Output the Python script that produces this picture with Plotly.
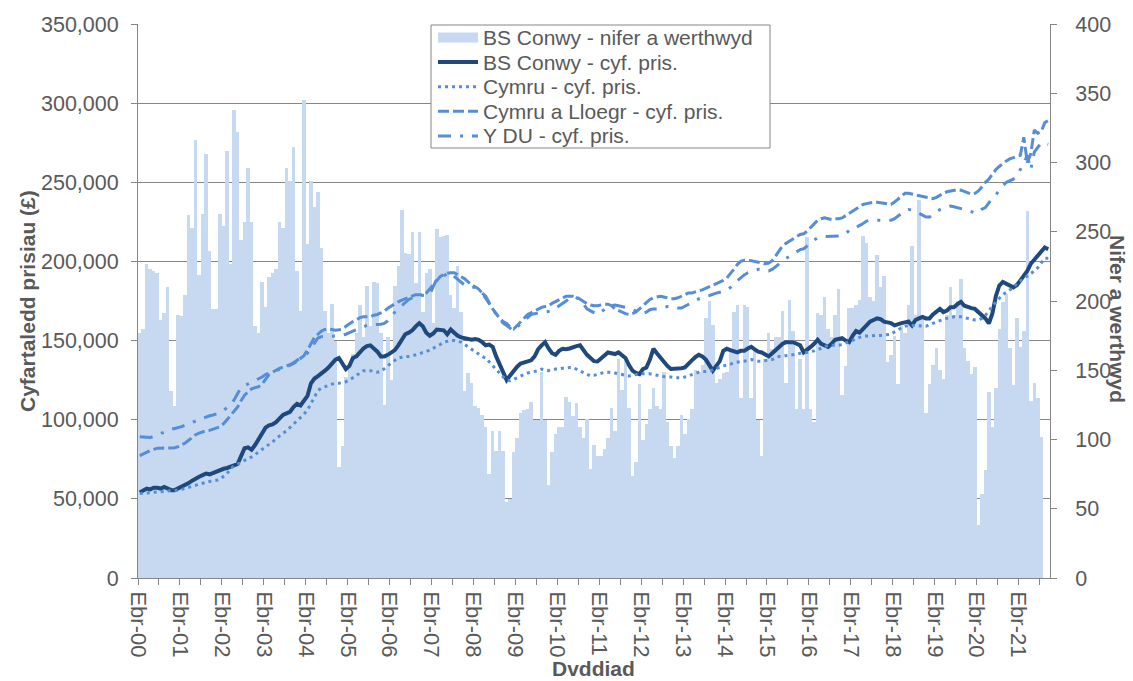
import plotly.graph_objects as go

# ---------------- data ----------------
year_labels = [f"Ebr-{y:02d}" for y in range(0, 22)]   # Apr 2000 .. Apr 2021

series_names = [
    "BS Conwy - nifer a werthwyd",
    "BS Conwy - cyf. pris.",
    "Cymru - cyf. pris.",
    "Cymru a Lloegr - cyf. pris.",
    "Y DU - cyf. pris.",
]

# monthly sales count, BS Conwy (Apr 2000 .. Oct 2021)
sales = [
    177, 180, 227, 223, 222, 220, 186, 191, 210, 135,
    124, 190, 189, 204, 262, 253, 316, 219, 263, 306,
    236, 194, 194, 263, 254, 308, 227, 338, 322, 244,
    257, 296, 257, 182, 177, 214, 196, 217, 220, 223,
    257, 253, 296, 287, 311,
    222, 193, 345, 241, 287, 268, 279, 238, 193, 177,
    198, 171, 80, 95, 145, 153, 162, 177, 197, 174,
    211, 182, 214, 213, 177, 125, 174, 143, 211, 225,
    266, 235, 234, 250, 213, 250, 192, 220, 223, 184,
    252, 246, 247,
    248, 204, 195, 225, 192, 135, 148, 141, 124, 123,
    118, 109, 75, 106, 92, 106, 92, 55,
    57, 91, 101, 119, 121, 122, 127, 114, 114, 149,
    114, 67, 91, 104, 109, 109, 131, 127, 117, 126,
    109, 101, 115, 79, 96, 88,
    88, 93, 101, 123, 106, 158, 136, 160, 123, 74,
    84, 140, 100, 111, 122, 137, 124, 122, 149, 113,
    95, 87, 95, 118, 104, 115, 122, 150, 149, 154,
    188, 200, 183, 141, 144, 148, 149, 165, 192, 197,
    130, 197, 196, 130, 165, 114,
    88, 158, 177, 165, 174, 174, 193, 141, 201, 178,
    122, 158, 122, 246, 122, 113, 191, 190, 203, 180,
    174, 190, 209, 132, 153, 195, 195, 197, 201, 247,
    242, 203, 200, 233, 210, 218, 156, 161, 175, 140,
    182, 177, 197, 240, 190,
    273, 190, 119, 140, 154, 166, 150, 144, 190, 210,
    190, 200, 216, 166, 157, 147, 152,
    38, 61, 78, 134, 109, 137, 180, 199, 205, 166,
    139, 188, 167, 178, 265, 128, 141, 130, 102,
]

# average prices in thousands of pounds (Apr 2000 .. Dec 2021)
conwy_k = [
    54, 55.5, 56.5, 56, 57, 57, 56.5, 57.5, 56.5, 55.5,
    55.5, 56.5, 57.5, 59, 60, 61.5, 63, 64, 65, 66,
    65.5, 66.5, 67.5, 68, 69, 69.5, 70.5, 71.5, 72, 77,
    82, 82.5, 81, 84, 87.5, 91, 95, 96.5, 97, 98.5,
    101, 103, 104, 105, 108, 110, 109, 112, 115, 123,
    126, 127.6, 129, 131, 133, 136, 138, 139, 136, 132,
    134, 139, 140, 143, 145, 146.5, 147, 145, 143, 140,
    140, 141, 142.5, 144, 147, 151, 154, 155, 156.5, 159,
    161, 159, 155, 153, 154.5, 157, 157, 156.5, 154, 157,
    155, 153, 152, 151.5, 151.5, 150.5, 151, 150.5, 149, 147,
    147.5, 146, 140, 135, 131, 125, 128, 131, 133.5, 135.5,
    136, 136.8, 137.5, 140, 144.5, 147, 149, 145, 142, 141,
    143.5, 144.8, 144.5, 145, 146, 146.5, 147, 143.5, 141, 139,
    137, 136.8, 138.5, 140, 142.5, 142, 141.5, 142.5, 141, 139,
    134.5, 131, 129.5, 128.8, 132, 133, 138, 144.8, 142, 139,
    136, 134, 132, 132, 132.5, 132.5, 133, 135.5, 137.5, 139.5,
    141, 140, 138, 134.5, 131, 134, 137, 143.5, 144.8, 144,
    143, 142.5, 143.5, 143.5, 145, 146, 144.5, 143, 142.5, 141,
    140, 142, 144, 146, 148, 149, 149, 149, 148, 147,
    142.5, 144, 146, 148, 150.5, 148, 147, 146, 148, 150.5,
    151, 151.5, 150, 149, 153, 156, 155, 157.5, 159.6, 162,
    163, 164, 163.5, 162, 161.5, 161, 159.6, 160.5, 161, 161.5,
    162, 159.6, 163, 164, 165, 164, 164, 166.5, 168, 170,
    168, 169, 171, 171, 173, 174.5, 172, 171, 170.5, 170,
    168, 166, 164, 160.8, 167, 178, 184.8, 187, 186, 184.5,
    183.6, 185, 188, 191, 194, 198.5, 201, 203, 206, 208.8, 207.7,
]

wales_k = [
    53.3, 53.5, 53.8, 54, 54, 54.3, 54.5, 54.5, 54.8, 55,
    55, 55.5, 56, 56.7, 57.3, 58, 58.7, 59.3, 60, 60.5,
    61, 61.3, 61.7, 62.5, 64, 66, 69, 71, 72, 73,
    74, 75, 76.5, 78, 79.5, 81, 82.5, 84, 86, 88,
    90, 91.5, 93, 95, 97, 99.5, 101.5, 103.5, 106, 110,
    114, 118.5, 120, 121, 122, 122.5, 123, 123, 123.5, 124,
    125, 126.5, 128, 129.5, 131, 131, 131, 130.5, 130, 130.5,
    132, 134, 136, 137.5, 139, 139.5, 140, 140, 140.5, 141,
    141.5, 142.5, 143, 144, 145, 146.5, 147.5, 149, 149.5, 150,
    150, 149.5, 149, 147.5, 146, 144, 142.5, 141, 140, 139,
    136.5, 134, 131.5, 129, 127, 125, 124.6, 125.5, 126.5, 128,
    128.8, 129.5, 130, 130.5, 131, 132, 131.5, 131, 131.5, 132,
    132, 132.5, 132.5, 133, 133, 132, 131, 130, 129, 127.6,
    128, 128.8, 129.5, 130, 130, 130, 129.5, 129, 128.5, 128,
    127.6, 128, 128.5, 129, 129, 129, 129, 128.5, 128, 127.6,
    127.3, 127, 127, 126.5, 126.5, 126.5, 127, 127.5, 128.5, 129.5,
    130, 130.5, 130.5, 131, 131.5, 132.5, 133, 134, 134.5, 135,
    136, 136.5, 136.8, 137, 137.5, 138, 137.5, 137, 137, 137.3,
    137.5, 138, 139, 140, 140, 140.5, 141, 141, 141.5, 142,
    142, 142.5, 143, 143.5, 144.5, 145, 146, 147, 147, 147,
    147, 147.5, 148.5, 149.5, 150.5, 151.5, 152, 152.8, 153, 153.2,
    153.2, 153.2, 153.2, 153.5, 154, 154, 155.5, 157, 158, 159,
    159.6, 159.6, 159.5, 159, 159, 159, 160, 161, 162, 163,
    163.5, 164, 164.5, 165, 165, 165, 164.5, 164, 163.5, 163,
    163, 164, 166, 168.5, 172, 174.5, 177, 179, 180.5, 182,
    183.5, 186, 187.5, 189, 190.5, 192, 194, 196, 199, 202, 202,
]

eng_wales_k = [
    77.3, 78.5, 79.6, 80.5, 81.3, 81.9, 82, 82, 82, 82.2,
    82.3, 83, 84, 85.3, 87, 89, 90.5, 91.5, 92.3, 93,
    93.3, 94, 94.8, 95.5, 97.5, 100, 102.5, 105, 108, 112,
    115.5, 117.5, 119.5, 120.3, 120.8, 122.5, 125.5, 128.5, 130, 131.5,
    132.5, 133.3, 134, 134.5, 135.5, 137, 138.5, 140.5, 144, 148,
    152, 154, 156, 157, 157.3, 157, 156.5, 156.8, 157.3, 159,
    160.8, 162, 163, 164.5, 165, 165, 165, 166, 166.5, 167.5,
    168.5, 170.5, 172, 173.5, 174.5, 175.5, 176.5, 177.5, 178.5, 179,
    179, 179, 180, 182.5, 185, 188, 190.5, 191.6, 192.5, 192.8,
    192.8, 191.5, 190.5, 189, 187, 185, 184, 182.5, 180, 177,
    173.5, 170, 167, 164, 162, 160.8, 158.5, 157.3, 159.5, 162,
    164.5, 166.5, 167.5, 168.8, 170, 171, 171.5, 172, 173.5, 174.5,
    176, 177, 178, 178, 178, 177.5, 176, 174.5, 173.3, 172.5,
    172, 172, 172.5, 173, 173, 172, 170, 169, 168, 167,
    166.5, 167, 168, 170, 172, 174, 176, 177, 177.5, 178,
    177.5, 177, 176.5, 176.5, 177, 178, 179, 180, 180, 181,
    181.5, 182, 183, 183.6, 184.5, 186, 187, 188, 189.5, 192,
    195, 198, 200, 200.8, 200.8, 200.5, 200, 199.5, 199, 198.5,
    199, 200.5, 203.5, 207, 210, 211.5, 213, 214.5, 216, 217,
    217.5, 219, 221.5, 224, 226, 227, 227.5, 227, 226.5, 227,
    227, 227.5, 229, 230.5, 232, 233.5, 235, 236, 236.5, 237,
    237.4, 237.4, 237, 236.5, 236, 236, 237.5, 239.5, 241.5, 243,
    243, 242.5, 242, 241.5, 241, 240.5, 240, 239.7, 240.5, 242,
    243, 244, 244.5, 245, 245.4, 245, 244, 243, 242.5, 243,
    244.5, 247, 250, 252, 255, 258, 260, 262, 263.5, 264.8,
    265.5, 266, 267, 278.5, 262.5, 268, 283, 281, 282, 287.7, 289,
]

uk_k = [
    89.2, 89, 88.8, 88.7, 89.5, 90.5, 91.5, 92.5, 93.5, 94,
    94.5, 95, 95.6, 96.7, 97.5, 98.5, 99.5, 100.2, 101, 101.8,
    102.5, 103, 103.6, 104.5, 106, 107.8, 109.3, 112.5, 116, 120.3,
    121.5, 122.5, 123.5, 124.5, 125.5, 127, 128.5, 129.5, 130.3, 131,
    131.8, 132.5, 133.3, 134.5, 136, 137, 139, 140.5, 142, 145,
    148, 151.6, 152.5, 152.8, 152.8, 152.8, 152.8, 153, 153.5, 154,
    155, 156, 157, 158, 159, 159.6, 160, 160, 160, 160.3,
    160.8, 162.5, 165, 168, 170, 172, 174.5, 176, 177, 178,
    178.3, 178.6, 179, 179, 184, 189, 190.5, 191, 192, 192.8,
    190.5, 188.5, 187, 185, 184, 183.6, 183.6, 182, 180, 178,
    174, 170, 166.5, 163.5, 161, 159.6, 157.5, 156, 158.5, 160.8,
    162.5, 164.5, 166.5, 167, 167.3, 167.6, 168, 168.3, 168.8, 170.5,
    172, 173.3, 175, 177, 178, 177, 176, 173, 170, 168.8,
    167.5, 166.5, 168, 170, 171.5, 172, 172.5, 172, 171.5, 171,
    170.5, 169.5, 168.5, 167.5, 167, 168, 169.5, 170, 170, 170.5,
    171, 171.5, 171.5, 171, 170.5, 170.5, 171.5, 172.5, 174, 175.5,
    176.5, 177.5, 178, 178.5, 179.5, 180, 180.5, 181, 182, 183.5,
    186, 188, 190, 191.5, 192.8, 193.5, 194.5, 195, 195, 194.5,
    194, 195, 196.5, 198.5, 200.5, 202, 203.5, 205, 206.5, 207.5,
    208, 209.5, 211.5, 213.5, 215, 215.6, 215.6, 215.6, 215.6, 215.6,
    216, 216.5, 217.5, 219.5, 221, 221.5, 222.5, 224, 225.5, 226,
    226, 226, 226, 226, 226, 226, 227, 228.5, 230.5, 232,
    232.8, 232.5, 231.7, 230.5, 229, 228, 228, 229.5, 231, 232.8,
    233.5, 234.5, 235, 234.5, 234, 233.5, 232.8, 232, 231.5, 230.5,
    231, 233, 234, 237, 240, 242, 245, 248, 250, 251,
    252, 254, 258, 262, 267, 258, 269, 272, 275, 274.5, 274,
]

# ---------------- styling ----------------
GREY = "#868686"
TXT = "#595959"
BAR = "#C6D9F1"
DARK = "#1F497D"
MID = "#558ED5"
FONT = "Liberation Sans, Arial, sans-serif"

W, H = 1133, 681
ML, MR, MT, MB = 138, 83, 24, 103
PW, PH = W - ML - MR, H - MT - MB

def px_x(px):
    return (px - ML) / PW

def px_y(py):
    return (H - MB - py) / PH

line_styles = [
    None,
    dict(color=DARK, width=4, dash="solid"),
    dict(color=MID, width=3, dash="3px,4px"),
    dict(color=MID, width=3, dash="11px,4px"),
    dict(color=MID, width=3, dash="13px,9px,3px,9px"),
]

fig = go.Figure()

fig.add_trace(go.Bar(
    x=list(range(len(sales))), y=sales, yaxis="y",
    name=series_names[0],
    marker=dict(color=BAR, line=dict(width=0)), width=1.0,
))

for vals, i in ((conwy_k, 1), (wales_k, 2), (eng_wales_k, 3), (uk_k, 4)):
    fig.add_trace(go.Scatter(
        x=list(range(len(vals))), y=[v * 1000 for v in vals], yaxis="y2",
        mode="lines", name=series_names[i], line=line_styles[i],
    ))

tickvals = [-0.5 + 6 * i for i in range(44)]
ticktext = [year_labels[i // 2] if i % 2 == 0 else "" for i in range(44)]

# ---------------- legend (drawn as a boxed key) ----------------
shapes = [dict(
    type="rect", xref="paper", yref="paper", layer="above",
    x0=px_x(431), x1=px_x(770), y0=px_y(148), y1=px_y(25),
    line=dict(color=GREY, width=1), fillcolor="white",
)]
annotations = []
for i, name in enumerate(series_names):
    cy = 37.5 + 24.6 * i
    if i == 0:
        shapes.append(dict(
            type="rect", xref="paper", yref="paper", layer="above",
            x0=px_x(438), x1=px_x(478), y0=px_y(cy + 5), y1=px_y(cy - 5),
            line=dict(width=0), fillcolor=BAR,
        ))
    else:
        shapes.append(dict(
            type="line", xref="paper", yref="paper", layer="above",
            x0=px_x(438), x1=px_x(478), y0=px_y(cy), y1=px_y(cy),
            line=line_styles[i],
        ))
    annotations.append(dict(
        text=name, xref="paper", yref="paper", x=px_x(481), y=px_y(cy),
        xanchor="left", yanchor="middle", showarrow=False,
        font=dict(family=FONT, size=21, color=TXT),
    ))

annotations += [
    dict(text="<b>Cyfartaledd prisiau (£)</b>", textangle=-90,
         xref="paper", yref="paper", x=px_x(27), y=px_y(301),
         xanchor="center", yanchor="middle", showarrow=False,
         font=dict(family=FONT, size=21, color=TXT)),
    dict(text="<b>Nifer a werthwyd</b>", textangle=90,
         xref="paper", yref="paper", x=px_x(1118), y=px_y(319),
         xanchor="center", yanchor="middle", showarrow=False,
         font=dict(family=FONT, size=21, color=TXT)),
    dict(text="<b>Dvddiad</b>",
         xref="paper", yref="paper", x=px_x(593), y=px_y(668),
         xanchor="center", yanchor="middle", showarrow=False,
         font=dict(family=FONT, size=21, color=TXT)),
]

fig.update_layout(
    width=W, height=H,
    margin=dict(l=ML, r=MR, t=MT, b=MB, autoexpand=False),
    paper_bgcolor="white", plot_bgcolor="white",
    bargap=0, showlegend=False,
    font=dict(family=FONT, size=21, color=TXT),
    xaxis=dict(
        range=[-0.5, 260.5], tickmode="array", tickvals=tickvals, ticktext=ticktext,
        tickangle=90, ticks="outside", ticklen=6, tickcolor=GREY, tickwidth=1,
        showline=True, linecolor=GREY, linewidth=1, showgrid=False, zeroline=False,
        tickfont=dict(size=22, color=TXT), ticklabelstandoff=2,
    ),
    yaxis=dict(
        side="right", range=[0, 400], tick0=0, dtick=50,
        ticks="outside", ticklen=6, tickcolor=GREY,
        showline=True, linecolor=GREY, linewidth=1, showgrid=False, zeroline=False,
        tickfont=dict(size=21.5, color=TXT), ticklabelstandoff=14,
    ),
    yaxis2=dict(
        overlaying="y", side="left", range=[0, 350000], tick0=0, dtick=50000,
        tickformat=",d", ticks="outside", ticklen=6, tickcolor=GREY,
        showline=True, linecolor=GREY, linewidth=1,
        showgrid=True, gridcolor=GREY, gridwidth=1, zeroline=False,
        tickfont=dict(size=21.5, color=TXT), ticklabelstandoff=8,
    ),
    shapes=shapes,
    annotations=annotations,
)

fig.write_html(
    "out.html",
    config={"displayModeBar": False},
    post_script="document.body.style.margin='0px';document.body.style.overflow='hidden';",
)
